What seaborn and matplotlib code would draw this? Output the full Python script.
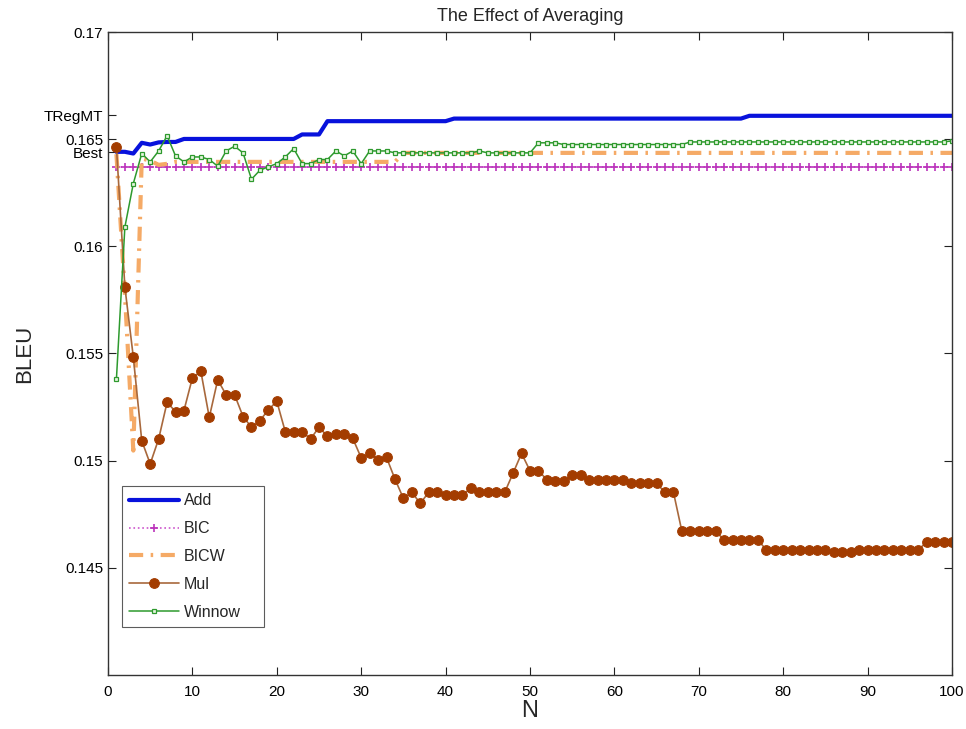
import numpy as np
import pandas as pd
import matplotlib
matplotlib.use("Agg")
import matplotlib.pyplot as plt
import seaborn as sns

N = list(range(1, 101))

add = ([0.16441, 0.16441, 0.16433, 0.16483, 0.16475, 0.16485, 0.16487, 0.16487]
       + [0.16501] * 14 + [0.16522] * 3 + [0.16584] * 15 + [0.16596] * 35
       + [0.16609] * 25)

bic = [0.16371] * 100

bicw = ([0.16430, 0.15780, 0.15047, 0.16410, 0.16400, 0.16380, 0.16385]
        + [0.16394] * 27 + [0.16436] * 66)

mul = [0.16464, 0.15810, 0.15483, 0.15093, 0.14985, 0.15101, 0.15272, 0.15229,
       0.15234, 0.15386, 0.15417, 0.15202, 0.15377, 0.15307, 0.15307, 0.15206,
       0.15156, 0.15187, 0.15237, 0.15277, 0.15136, 0.15136, 0.15136, 0.15101,
       0.15156, 0.15114, 0.15125, 0.15125, 0.15104, 0.15013, 0.15034, 0.15005,
       0.15015, 0.14914, 0.14824, 0.14852, 0.14801, 0.14852, 0.14852, 0.14840,
       0.14840, 0.14840, 0.14872, 0.14852, 0.14852, 0.14852, 0.14852, 0.14942,
       0.15034, 0.14953, 0.14953, 0.14911, 0.14903, 0.14903, 0.14933, 0.14933,
       0.14911, 0.14911, 0.14911, 0.14911, 0.14911, 0.14894, 0.14894, 0.14894,
       0.14894, 0.14852, 0.14852, 0.14670, 0.14670, 0.14670, 0.14670, 0.14670,
       0.14631, 0.14631, 0.14631, 0.14631, 0.14631, 0.14583, 0.14583, 0.14583,
       0.14583, 0.14583, 0.14583, 0.14583, 0.14583, 0.14572, 0.14572, 0.14572,
       0.14583, 0.14583, 0.14583, 0.14583, 0.14583, 0.14583, 0.14583, 0.14583,
       0.14621, 0.14621, 0.14621, 0.14621]

winnow = ([0.15382, 0.16090, 0.16293, 0.16433, 0.16394, 0.16445, 0.16516, 0.16422,
           0.16394, 0.16417, 0.16417, 0.16405, 0.16374, 0.16445, 0.16467, 0.16436,
           0.16313, 0.16355, 0.16371, 0.16386, 0.16417, 0.16456, 0.16386, 0.16386,
           0.16405, 0.16405, 0.16445, 0.16422, 0.16445, 0.16386, 0.16445, 0.16445,
           0.16445]
          + [0.16436] * 10 + [0.16445] + [0.16436] * 6
          + [0.16483] * 3 + [0.16475] * 15 + [0.16487] * 31 + [0.16492])

ytick_vals = [0.145, 0.15, 0.155, 0.16, 0.16439, 0.165, 0.16612, 0.17]
ytick_labels = ["0.145", "0.15", "0.155", "0.16", "Best", "0.165", "TRegMT", "0.17"]
xtick_vals = list(range(0, 101, 10))

sns.set_theme(style="white")
plt.rcParams['font.family'] = ['Liberation Sans', 'DejaVu Sans']

fig = plt.figure(figsize=(9.66, 7.29), dpi=100)
ax = fig.add_axes([0.1118, 0.0741, 0.8737, 0.882])

sns.lineplot(x=N, y=add, ax=ax, color="#0812dc", linewidth=3.0, label="Add")
sns.lineplot(x=N, y=bic, ax=ax, color="#cc55cc", linewidth=1.2, linestyle=":",
             marker="+", markersize=6, markeredgewidth=1.2,
             markeredgecolor="#bb33bb", label="BIC")
sns.lineplot(x=N, y=bicw, ax=ax, color="#f5aa66", linewidth=3.0,
             label="BICW").lines[-1].set_linestyle((0, (3.4, 1.8, 0.6, 1.8)))
sns.lineplot(x=N, y=mul, ax=ax, color="#a8683c", linewidth=1.2, marker="o",
             markersize=7, markerfacecolor="#a33c00", markeredgecolor="#a33c00",
             label="Mul")
sns.lineplot(x=N, y=winnow, ax=ax, color="#2e9a2e", linewidth=1.1, marker="s",
             markersize=3.5, markerfacecolor="#e8f5e0", markeredgecolor="#2e9a2e",
             markeredgewidth=0.9, label="Winnow")

ax.set_xlim(0, 100)
ax.set_ylim(0.14, 0.17)
ax.set_xticks(xtick_vals)
ax.set_xticklabels([str(v) for v in xtick_vals], fontsize=11)
ax.set_yticks(ytick_vals)
ax.set_yticklabels(ytick_labels, fontsize=11)
ax.tick_params(direction="in", length=6, width=0.8, top=True, right=True,
               bottom=True, left=True, colors="#222222", labelcolor="black")
ax.tick_params(axis="x", pad=7)
for s in ax.spines.values():
    s.set_color("#333333")
    s.set_linewidth(1.0)

ax.set_title("The Effect of Averaging", fontsize=13, pad=8)
ax.set_xlabel("N", fontsize=17, labelpad=1)
ax.set_ylabel("BLEU", fontsize=16, labelpad=6)

leg = ax.legend(loc="lower left", bbox_to_anchor=(0.0166, 0.075, 0.168, 0.21),
                mode="expand", fontsize=11.5, frameon=True, fancybox=False,
                handlelength=3.1, borderpad=0.45, borderaxespad=0.0,
                labelspacing=0.8, handletextpad=0.3)
leg.get_frame().set_edgecolor("#333333")
leg.get_frame().set_linewidth(0.8)

fig.savefig("out.png", dpi=100)
